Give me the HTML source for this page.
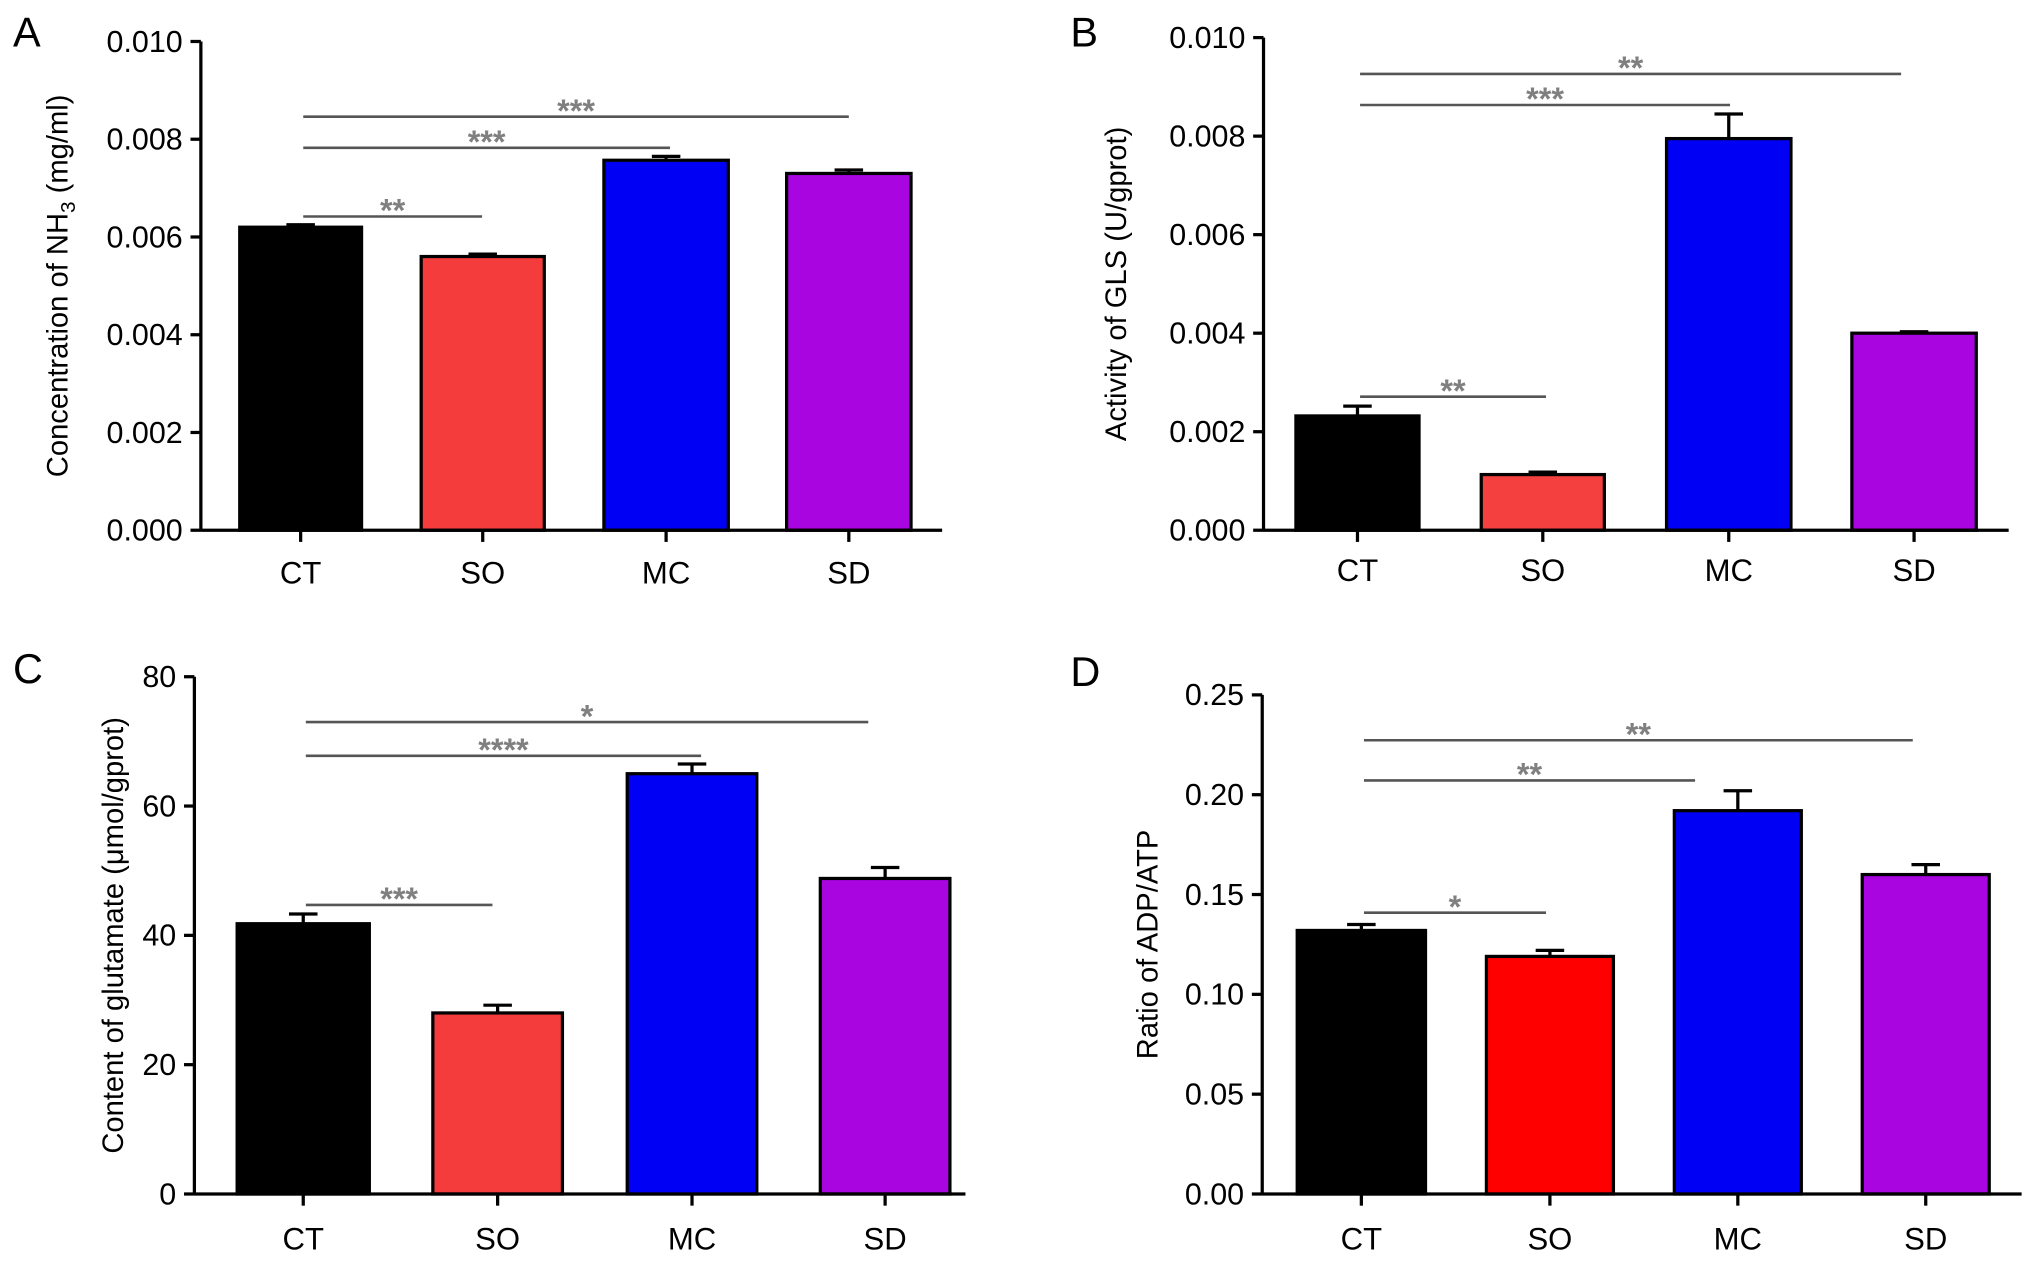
<!DOCTYPE html>
<html><head><meta charset="utf-8"><style>
html,body{margin:0;padding:0;background:#fff;}
svg{display:block;font-family:"Liberation Sans",Arial,sans-serif;}
</style></head><body>
<svg id="fig" width="2032" height="1264" viewBox="0 0 1568 975" preserveAspectRatio="none" xmlns="http://www.w3.org/2000/svg"></svg>
<script>
const categories = ["CT","SO","MC","SD"];
const valuesA = [0.0062, 0.0056, 0.00757, 0.0073];
const errorsA = [0.00005, 0.00005, 0.00008, 0.00007];
const ticksA = ["0.000","0.002","0.004","0.006","0.008","0.010"];
const valuesB = [0.00232, 0.00113, 0.00795, 0.0040];
const errorsB = [0.0002, 0.00005, 0.0005, 0.00003];
const ticksB = ["0.000","0.002","0.004","0.006","0.008","0.010"];
const valuesC = [41.8, 28.0, 65.0, 48.8];
const errorsC = [1.5, 1.2, 1.5, 1.7];
const ticksC = ["0","20","40","60","80"];
const valuesD = [0.132, 0.119, 0.192, 0.160];
const errorsD = [0.003, 0.003, 0.010, 0.005];
const ticksD = ["0.00","0.05","0.10","0.15","0.20","0.25"];
const sigA = [[0,1,"**"],[0,2,"***"],[0,3,"***"]];
const sigB = [[0,1,"**"],[0,2,"***"],[0,3,"**"]];
const sigC = [[0,1,"***"],[0,2,"****"],[0,3,"*"]];
const sigD = [[0,1,"*"],[0,2,"**"],[0,3,"**"]];

const NS="http://www.w3.org/2000/svg";
const svg=document.getElementById('fig');
function mk(tag,attrs,parent){const e=document.createElementNS(NS,tag);for(const k in attrs)e.setAttribute(k,attrs[k]);(parent||svg).appendChild(e);return e;}

const panels=[
 {id:"a",letter:"A",lx:10,ly:36,vals:valuesA,errs:errorsA,ticks:ticksA,max:0.010,sig:sigA,sigY:[167,114,90],sigX2:[372,517,655],
  ax:155,y0:409,yTop:32,xr:727,bars:[[185,279],[325,420],[466,562],[607,703]],colors:["#000","#f53c3c","#0000f5","#a805e0"],ylab:"Concentration of NH",sub:"3",ylab2:" (mg/ml)",ylx:52,xly:450},
 {id:"b",letter:"B",lx:826,ly:36,vals:valuesB,errs:errorsB,ticks:ticksB,max:0.010,sig:sigB,sigY:[306,81,57],sigX2:[1193,1335,1467],
  ax:975,y0:409,yTop:29,xr:1550,bars:[[1000,1095],[1143,1238],[1286,1382],[1429,1525]],colors:["#000","#f54040","#0000f5","#a805e0"],ylab:"Activity of GLS (U/gprot)",ylx:869,xly:448},
 {id:"c",letter:"C",lx:10,ly:527,vals:valuesC,errs:errorsC,ticks:ticksC,max:80,sig:sigC,sigY:[698,583,557],sigX2:[380,541,670],
  ax:150,y0:921,yTop:522,xr:745,bars:[[183,285],[334,434],[484,584],[633,733]],colors:["#000","#f53c3c","#0000f5","#a805e0"],ylab:"Content of glutamate (\u03bcmol/gprot)",ylx:95,xly:964},
 {id:"d",letter:"D",lx:826,ly:529,vals:valuesD,errs:errorsD,ticks:ticksD,max:0.25,sig:sigD,sigY:[704,602,571],sigX2:[1193,1308,1476],
  ax:974,y0:921,yTop:536,xr:1560,bars:[[1001,1100],[1147,1245],[1292,1390],[1437,1535]],colors:["#000","#ff0000","#0000f5","#a805e0"],ylab:"Ratio of ADP/ATP",ylx:893,xly:964}
];

panels.forEach(p=>{
  const g=mk('g',{});
  
  
  const yS=v=>p.y0-(v/p.max)*(p.y0-p.yTop);
  const cx=i=>(p.bars[i][0]+p.bars[i][1])/2;
  const L=mk('text',{x:p.lx,y:p.ly,'font-size':32,fill:'#000'},g);L.textContent=p.letter;
  
  
  p.vals.forEach((v,i)=>{
    const e=p.errs[i];
    const et=yS(v+e);
    const eb=mk('line',{x1:cx(i),x2:cx(i),y1:yS(v),y2:et,stroke:'#000','stroke-width':2.5},g);
    
    
    const cap=mk('line',{x1:cx(i)-11,x2:cx(i)+11,y1:et,y2:et,stroke:'#000','stroke-width':2.5},g);
    
    
    const r=mk('rect',{x:p.bars[i][0],y:yS(v),width:p.bars[i][1]-p.bars[i][0],height:p.y0-yS(v),fill:p.colors[i],stroke:'#000','stroke-width':2.5},g);
    
    
  });
  const ya=mk('line',{x1:p.ax,x2:p.ax,y1:p.yTop,y2:p.y0+1,stroke:'#000','stroke-width':2.5},g);
  
  
  const xa=mk('line',{x1:p.ax,x2:p.xr,y1:p.y0,y2:p.y0,stroke:'#000','stroke-width':2.5},g);
  
  
  p.ticks.forEach((t,k)=>{
    const y=yS(p.max*k/(p.ticks.length-1));
    mk('line',{x1:p.ax-8,x2:p.ax,y1:y,y2:y,stroke:'#000','stroke-width':2.5},g);
    const tx=mk('text',{x:p.ax-14,y:y+8,'font-size':23.5,'text-anchor':'end',fill:'#000'},g);
    tx.textContent=t;
    
    
  });
  categories.forEach((c,i)=>{
    mk('line',{x1:cx(i),x2:cx(i),y1:p.y0,y2:p.y0+9,stroke:'#000','stroke-width':2.5},g);
    const tx=mk('text',{x:cx(i),y:p.xly,'font-size':24,'text-anchor':'middle',fill:'#000'},g);
    tx.textContent=c;
    
    
  });
  const yl=mk('text',{x:0,y:0,'font-size':22.5,'text-anchor':'middle',fill:'#000',transform:`translate(${p.ylx},${(p.y0+p.yTop)/2}) rotate(-90)`},g);
  
  
  if(p.sub){
    yl.appendChild(document.createTextNode(p.ylab));
    const ts=mk('tspan',{'font-size':16,dy:6},yl);ts.textContent=p.sub;
    const ts2=mk('tspan',{dy:-6},yl);ts2.textContent=p.ylab2;
  } else yl.textContent=p.ylab;
  p.sig.forEach((s,k)=>{
    const x1=cx(s[0])+2, x2=p.sigX2[k], y=p.sigY[k];
    const ln=mk('line',{x1:x1,x2:x2,y1:y,y2:y,stroke:'#555','stroke-width':2},g);
    
    
    const st=mk('text',{x:(x1+x2)/2,y:y+4,'font-size':25,'font-weight':'bold','text-anchor':'middle',fill:'#808080'},g);
    st.textContent=s[2];
    
    
  });
});
</script>
</body></html>
